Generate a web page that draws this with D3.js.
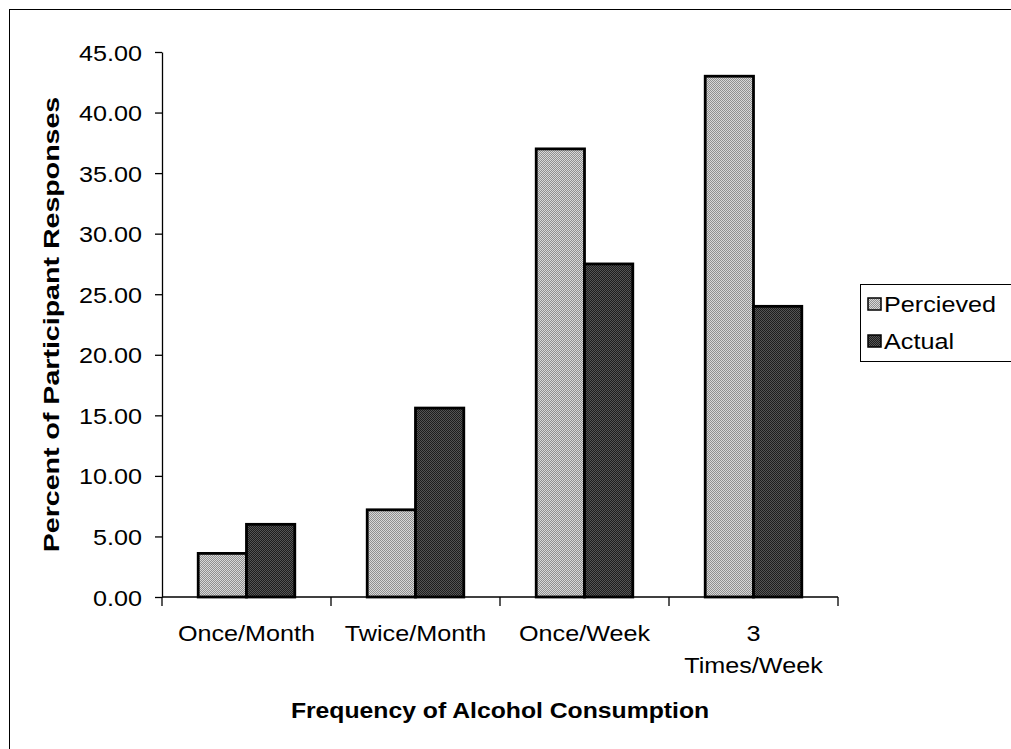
<!DOCTYPE html>
<html>
<head>
<meta charset="utf-8">
<script src="https://cdn.jsdelivr.net/npm/d3@7"></script>
<style>
  html, body { margin: 0; padding: 0; background: #fff; }
  svg text { font-family: "Liberation Sans", Arial, sans-serif; fill: #000; }
</style>
</head>
<body>
<svg id="chart" width="1011" height="749"></svg>
<script>
// ---- data ----
const categories = ["Once/Month", "Twice/Month", "Once/Week", "3 Times/Week"];
const tickLabelLines = [["Once/Month"], ["Twice/Month"], ["Once/Week"], ["3", "Times/Week"]];
const seriesNames = ["Percieved", "Actual"];
const perceived = [3.6, 7.2, 37.0, 43.0];
const actual = [6.0, 15.6, 27.5, 24.0];
const yTicks = [0, 5, 10, 15, 20, 25, 30, 35, 40, 45];
const yTitle = "Percent of Participant Responses";
const xTitle = "Frequency of Alcohol Consumption";

// ---- layout ----
const W = 1011, H = 749;
const plot = { left: 162, right: 838, top: 52, bottom: 597 };
const svg = d3.select("#chart");
const FS = 22.5;
const SX = 1.12; // horizontal stretch of glyphs in reference

// patterns for dithered look
const defs = svg.append("defs");
function pattern(id, c1, c2) {
  const p = defs.append("pattern").attr("id", id).attr("width", 2).attr("height", 2)
    .attr("patternUnits", "userSpaceOnUse");
  p.append("rect").attr("width", 2).attr("height", 2).attr("fill", c1);
  p.append("rect").attr("width", 1).attr("height", 1).attr("fill", c2);
  p.append("rect").attr("x", 1).attr("y", 1).attr("width", 1).attr("height", 1).attr("fill", c2);
}
pattern("patP", "#909090", "#d8d8d8");
pattern("patA", "#1e1e1e", "#555555");
const fills = ["url(#patP)", "url(#patA)"];

// chart border (left/top visible; right/bottom beyond frame)
svg.append("rect").attr("x", 9.5).attr("y", 9.5).attr("width", W + 10).attr("height", H + 10)
  .attr("fill", "none").attr("stroke", "#000").attr("stroke-width", 1);

// scales
const x = d3.scaleBand().domain(categories).range([plot.left, plot.right]).paddingInner(0).paddingOuter(0);
const barW = x.bandwidth() / 3.5; // Excel gap width 150%
const xs = d3.scaleBand().domain(seriesNames).range([0.75 * barW, 2.75 * barW]);
const y = d3.scaleLinear().domain([0, 45]).range([plot.bottom, plot.top]);

// stretched text helper
function stext(parent, tx, ty, str, opts) {
  const g = parent.append("g").attr("transform", `translate(${tx},${ty})${opts.rotate ? ` rotate(${opts.rotate})` : ""}`);
  g.append("text")
    .attr("transform", `scale(${opts.sx || SX},1)`)
    .attr("text-anchor", opts.anchor || "start")
    .attr("font-size", opts.size || FS)
    .attr("font-weight", opts.weight || "normal")
    .text(str);
  return g;
}

// y axis
const yAxis = d3.axisLeft(y).tickValues(yTicks).tickSize(7).tickSizeOuter(0).tickFormat(d3.format(".2f"));
const gy = svg.append("g").attr("transform", `translate(${plot.left},0)`).call(yAxis);
gy.select(".domain").attr("stroke", "#000").attr("stroke-width", 1.3);
gy.selectAll(".tick line").attr("stroke", "#000").attr("stroke-width", 1.3);
gy.selectAll(".tick text").remove();
gy.selectAll(".tick").each(function(d) {
  stext(d3.select(this), -20, 8, d3.format(".2f")(d), { anchor: "end" });
});

// bars
const data = categories.map((c, i) => ({ cat: c, vals: [perceived[i], actual[i]] }));
const groups = svg.append("g").selectAll("g").data(data).join("g")
  .attr("transform", d => `translate(${x(d.cat)},0)`);
groups.selectAll("rect").data(d => d.vals.map((v, j) => ({ v, s: seriesNames[j], j })))
  .join("rect")
  .attr("x", d => xs(d.s))
  .attr("y", d => y(d.v))
  .attr("width", xs.bandwidth())
  .attr("height", d => y(0) - y(d.v))
  .attr("fill", d => fills[d.j])
  .attr("stroke", "#000")
  .attr("stroke-width", 2.8);

// x axis
const gx = svg.append("g");
gx.append("line").attr("x1", plot.left).attr("x2", plot.right).attr("y1", y(0)).attr("y2", y(0))
  .attr("stroke", "#000").attr("stroke-width", 1.3);
const boundaries = categories.map(c => x(c)).concat([x(categories[categories.length - 1]) + x.bandwidth()]);
gx.selectAll("line.tk").data(boundaries).join("line").attr("class", "tk")
  .attr("x1", d => d).attr("x2", d => d).attr("y1", y(0)).attr("y2", y(0) + 9)
  .attr("stroke", "#000").attr("stroke-width", 1.3);
categories.forEach((c, i) => {
  const cx = x(c) + x.bandwidth() / 2;
  tickLabelLines[i].forEach((ln, k) => {
    stext(gx, cx, 641 + k * 32, ln, { anchor: "middle" });
  });
});

// axis titles
stext(svg, (plot.left + plot.right) / 2, 718, xTitle, { anchor: "middle", weight: "bold", sx: 1.1 });
stext(svg, 59, (plot.top + plot.bottom) / 2, yTitle, { anchor: "middle", weight: "bold", rotate: -90, sx: 1.27 });

// legend
const lg = svg.append("g");
lg.append("rect").attr("x", 860.5).attr("y", 284.5).attr("width", 160).attr("height", 77)
  .attr("fill", "#fff").attr("stroke", "#000").attr("stroke-width", 1);
seriesNames.forEach((s, i) => {
  const cy = 304 + i * 37;
  lg.append("rect").attr("x", 868).attr("y", cy - 6).attr("width", 13).attr("height", 12)
    .attr("fill", fills[i]).attr("stroke", "#000").attr("stroke-width", 1.5);
  stext(lg, 884, cy + 8, s, { anchor: "start" });
});
</script>
</body>
</html>
